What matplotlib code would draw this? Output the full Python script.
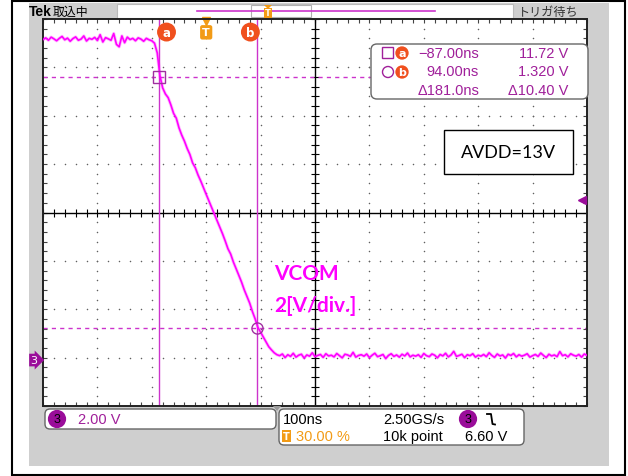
import matplotlib
matplotlib.use("Agg")
import matplotlib.pyplot as plt
import numpy as np
from matplotlib.patches import Rectangle, FancyBboxPatch, Polygon

# scope settings
t_div = 100          # ns/div
v_div = 2.0          # V/div
t_start = -300       # trigger at 30 % of the 10 div record
v_bottom = -1.9      # ch3 ground sits ~0.95 div above the bottom edge

cursor_t = [-87.0, 94.0]
cursor_v = [11.72, 1.32]
trig_level = 6.60

readout_t = ["\u221287.00ns", "94.00ns", "\u0394181.0ns"]
readout_v = ["11.72 V", "1.320 V", "\u039410.40 V"]

# ch3 trace, one sample every 5 ns from -300 ns to 700 ns
t_ns = np.arange(-300, 701, 5)
v_high = [13.25, 13.32, 13.22, 13.35, 13.28, 13.20, 13.30, 13.38, 13.24, 13.31,
          13.18, 13.29, 13.36, 13.22, 13.27, 13.40, 13.19, 13.30, 13.26, 13.34,
          13.21, 13.45, 13.15, 13.33, 13.28, 13.22, 13.50, 13.05, 12.95, 13.40,
          13.12, 13.35, 13.25, 13.30, 13.20, 13.32, 13.27, 13.18, 13.30, 13.24,
          13.20, 13.10]
v_edge = [12.70, 11.75, 11.25, 11.00, 10.85, 10.55, 10.20, 10.00, 9.60, 9.30,
          9.05, 8.75, 8.50, 8.15, 7.95, 7.65, 7.40, 7.12, 6.85, 6.58,
          6.30, 6.05, 5.78, 5.50, 5.22, 4.92, 4.60, 4.38, 4.05, 3.78,
          3.50, 3.22, 2.90, 2.62, 2.35, 2.00, 1.70, 1.35, 1.15, 0.95,
          0.75, 0.55, 0.42, 0.30, 0.22]
v_low = [0.18, 0.25, 0.10, 0.22, 0.15, 0.28, 0.12, 0.20, 0.24, 0.08,
         0.21, 0.16, 0.30, 0.14, 0.19, 0.23, 0.11, 0.26, 0.17, 0.20,
         0.13, 0.27, 0.18, 0.09, 0.24, 0.21, 0.15, 0.32, 0.12, 0.19,
         0.22, 0.16, 0.25, 0.10, 0.20, 0.28, 0.14, 0.18, 0.23, 0.06,
         0.19, 0.26, 0.15, 0.21, 0.12, 0.24, 0.17, 0.29, 0.13, 0.20,
         0.16, 0.22, 0.11, 0.27, 0.18, 0.14, 0.25, 0.20, 0.09, 0.23,
         0.17, 0.28, 0.13, 0.21, 0.36, 0.15, 0.19, 0.24, 0.10, 0.22,
         0.18, 0.26, 0.12, 0.20, 0.16, 0.23, 0.14, 0.30, 0.19, 0.11,
         0.25, 0.17, 0.21, 0.08, 0.24, 0.19, 0.27, 0.13, 0.22, 0.16,
         0.20, 0.26, 0.12, 0.18, 0.23, 0.15, 0.29, 0.19, 0.10, 0.24,
         0.17, 0.21, 0.14, 0.35, 0.18, 0.22, 0.13, 0.26, 0.20, 0.16,
         0.23, 0.12, 0.25, 0.19]
v_ch3 = np.array(v_high + v_edge + v_low)

TRACE = "#ff00ff"
CURS = "#cc33cc"
PURPLE = "#a0209a"
CH3 = "#9a0d9a"
ORANGE = "#f29b16"
RED = "#f0501e"
GRAY = "#cfcfcf"
NARROW = ["Liberation Sans Narrow", "Liberation Sans", "DejaVu Sans"]
JP = ["Noto Sans CJK JP", "DejaVu Sans"]

W, H = 628, 477
fig = plt.figure(figsize=(W / 100, H / 100), dpi=100)

# background in pixel coords
bg = fig.add_axes([0, 0, 1, 1], zorder=0)
bg.set_xlim(0, W)
bg.set_ylim(H, 0)
bg.axis("off")
bg.add_patch(Rectangle((12, 2), 613, 474, fc="white", ec="black", lw=1.5))
bg.add_patch(Rectangle((29, 4), 580, 463, fc=GRAY, ec="none"))

# top status bar
bg.text(29, 12, "Tek", fontsize=10, fontweight="bold", family=NARROW, va="center")
bg.text(53, 12, "取込中", fontsize=8.6, family=JP, va="center")
bg.add_patch(Rectangle((117, 5), 396, 14, fc="white", ec="#bbbbbb", lw=0.8))
bg.plot([197, 435], [12, 12], color=CURS, lw=1.2)
bg.add_patch(Rectangle((251, 6), 60, 12, fc="none", ec="#b0b0b0", lw=0.8))
bg.add_patch(Polygon([[264, 6], [272, 6], [268, 10]], closed=True, fc=ORANGE, ec="none"))
bg.text(268, 14, "T", fontsize=6, color="white", ha="center", va="center", fontweight="bold",
        bbox=dict(boxstyle="square,pad=0.1", fc=ORANGE, ec="none"))
bg.text(518, 12, "トリガ待ち", fontsize=8.7, family=JP, va="center", color="#333333")

# graticule
x0, y0, x1, y1 = 43, 20, 587, 407
ax = fig.add_axes([x0 / W, 1 - y1 / H, (x1 - x0) / W, (y1 - y0) / H], zorder=1)
ax.set_facecolor("white")
t_end = t_start + 10 * t_div
v_top = v_bottom + 8 * v_div
ax.set_xlim(t_start, t_end)
ax.set_ylim(v_bottom, v_top)
ax.set_xticks(np.arange(t_start, t_end + 1, t_div))
ax.set_yticks(np.arange(v_bottom, v_top + 0.01, v_div))
ax.set_xticks(np.arange(t_start, t_end + 1, t_div / 5), minor=True)
ax.set_yticks(np.arange(v_bottom, v_top + 0.01, v_div / 5), minor=True)
ax.tick_params(which="both", direction="in", length=3, width=0.8, color="#444444",
               top=True, right=True, labelbottom=False, labelleft=False)
for s in ax.spines.values():
    s.set_color("#222222")
    s.set_linewidth(1.4)

t_mid = t_start + 5 * t_div
v_mid = v_bottom + 4 * v_div
for k in range(1, 10):
    if k == 5:
        continue
    tk = t_start + k * t_div
    ax.plot(np.full(41, tk), v_bottom + np.arange(41) * v_div / 5, ls="none",
            marker="o", ms=1.1, mew=0, color="#606060")
for k in range(1, 8):
    if k == 4:
        continue
    vk = v_bottom + k * v_div
    ax.plot(t_start + np.arange(51) * t_div / 5, np.full(51, vk), ls="none",
            marker="o", ms=1.1, mew=0, color="#606060")
ax.axhline(v_mid, color="black", lw=1)
ax.axvline(t_mid, color="black", lw=1)
ax.plot(t_start + np.arange(51) * t_div / 5, np.full(51, v_mid), ls="none",
        marker="|", ms=6, mew=0.8, color="black")
ax.plot(np.full(41, t_mid), v_bottom + np.arange(41) * v_div / 5, ls="none",
        marker="_", ms=6, mew=0.8, color="black")

# cursors
for tc in cursor_t:
    ax.axvline(tc, color=CURS, lw=1)
for vc in cursor_v:
    ax.axhline(vc, color=CURS, lw=1, dashes=(3, 3))

# trace with a faint halo, like the scope's persistence fuzz
ax.plot(t_ns, v_ch3, color=TRACE, lw=2.4, alpha=0.25, zorder=4)
ax.plot(t_ns, v_ch3, color=TRACE, lw=1.2, zorder=5)
ax.plot(cursor_t[0], cursor_v[0], marker="s", ms=8, mfc="none", mec="#a030a0", mew=1, zorder=6)
ax.plot(cursor_t[1], cursor_v[1], marker="o", ms=8, mfc="none", mec="#a030a0", mew=1, zorder=6)

# cursor / trigger flags along the top
for tc, lab, dx in [(cursor_t[0], "a", 5.5), (cursor_t[1], "b", -5)]:
    ax.annotate(lab, xy=(tc, 1), xycoords=("data", "axes fraction"), xytext=(dx, -9.4),
                textcoords="offset points", ha="center", va="center", fontsize=8.5,
                fontweight="bold", color="white",
                bbox=dict(boxstyle="circle,pad=0.25", fc=RED, ec="none"))
ax.plot([0], [0.995], marker="v", ms=6, color=ORANGE, transform=ax.get_xaxis_transform(), clip_on=False)
ax.annotate("T", xy=(0, 1), xycoords=("data", "axes fraction"), xytext=(0, -9.6),
            textcoords="offset points", ha="center", va="center", fontsize=8,
            fontweight="bold", color="white",
            bbox=dict(boxstyle="round,pad=0.2,rounding_size=0.2", fc=ORANGE, ec="none"))

# ground and trigger level markers
ax.annotate("3", xy=(0, 0), xycoords=("axes fraction", "data"), xytext=(-6.5, 0),
            textcoords="offset points", ha="center", va="center", fontsize=8, color="white",
            bbox=dict(boxstyle="rarrow,pad=0.12", fc=CH3, ec="none"), annotation_clip=False)
ax.plot([0.99], [trig_level], marker="<", ms=6, color=CH3, transform=ax.get_yaxis_transform(),
        clip_on=False, zorder=6)

# overlay boxes and text in pixel coords
ov = fig.add_axes([0, 0, 1, 1], zorder=2)
ov.set_xlim(0, W)
ov.set_ylim(H, 0)
ov.axis("off")
ov.patch.set_alpha(0)

ov.add_patch(FancyBboxPatch((371, 45), 217, 55, boxstyle="round,pad=0,rounding_size=6",
                            fc="white", ec="#666666", lw=1))
ov.add_patch(Rectangle((382, 48), 11, 11, fc="none", ec=PURPLE, lw=1))
ov.add_patch(plt.Circle((388, 73), 5.5, fc="none", ec=PURPLE, lw=1))
for yy, lab in [(54, "a"), (73, "b")]:
    ov.text(402, yy, lab, fontsize=8, fontweight="bold", color="white", ha="center", va="center",
            bbox=dict(boxstyle="circle,pad=0.15", fc=RED, ec="none"))
for i in range(3):
    yy = 54 + i * 18.5
    ov.text(479, yy, readout_t[i], fontsize=10.5, family=NARROW, color=PURPLE, ha="right", va="center")
    ov.text(568, yy, readout_v[i], fontsize=10.5, family=NARROW, color=PURPLE, ha="right", va="center")

ov.add_patch(Rectangle((444, 131), 129, 44, fc="white", ec="black", lw=1))
ov.text(508.5, 153, "AVDD=13V", fontsize=13, family=["Lato", "DejaVu Sans"], ha="center", va="center")

ov.text(274, 274.5, "VCOM", fontsize=15, fontweight="bold", family=["Lato", "DejaVu Sans"],
        color=TRACE, va="center")
ov.text(274, 306, "2[V/div.]", fontsize=15, fontweight="bold", family=["Lato", "DejaVu Sans"],
        color=TRACE, va="center")

# bottom readouts
ov.add_patch(FancyBboxPatch((45, 410), 231, 20, boxstyle="round,pad=0,rounding_size=5",
                            fc="white", ec="#666666", lw=1))
ov.text(57, 420, "3", fontsize=9, family=NARROW, color="black", ha="center", va="center",
        bbox=dict(boxstyle="circle,pad=0.25", fc=CH3, ec="none"))
ov.text(78, 420, "2.00 V", fontsize=10.5, family=NARROW, color=PURPLE, va="center")
ov.add_patch(Polygon([[273, 407], [281, 407], [277, 412]], closed=True, fc="#999999", ec="none"))

ov.add_patch(FancyBboxPatch((279, 410), 245, 36, boxstyle="round,pad=0,rounding_size=5",
                            fc="white", ec="#666666", lw=1))
ov.text(283, 420, "100ns", fontsize=10.5, family=NARROW, va="center")
ov.text(383, 420, "2.50GS/s", fontsize=10.5, family=NARROW, va="center")
ov.text(468, 420, "3", fontsize=9, family=NARROW, color="black", ha="center", va="center",
        bbox=dict(boxstyle="circle,pad=0.25", fc=CH3, ec="none"))
ov.plot([487, 491, 492.5, 495], [415, 415, 425, 425.5], color="black", lw=1.3)
ov.text(286.5, 437, "T", fontsize=7, color="white", fontweight="bold", ha="center", va="center",
        bbox=dict(boxstyle="square,pad=0.15", fc=ORANGE, ec="none"))
ov.text(296, 437, "30.00 %", fontsize=10.5, family=NARROW, color=ORANGE, va="center")
ov.text(383, 437, "10k point", fontsize=10.5, family=NARROW, va="center")
ov.text(465, 437, "6.60 V", fontsize=10.5, family=NARROW, va="center")

fig.savefig("out.png", dpi=100)
